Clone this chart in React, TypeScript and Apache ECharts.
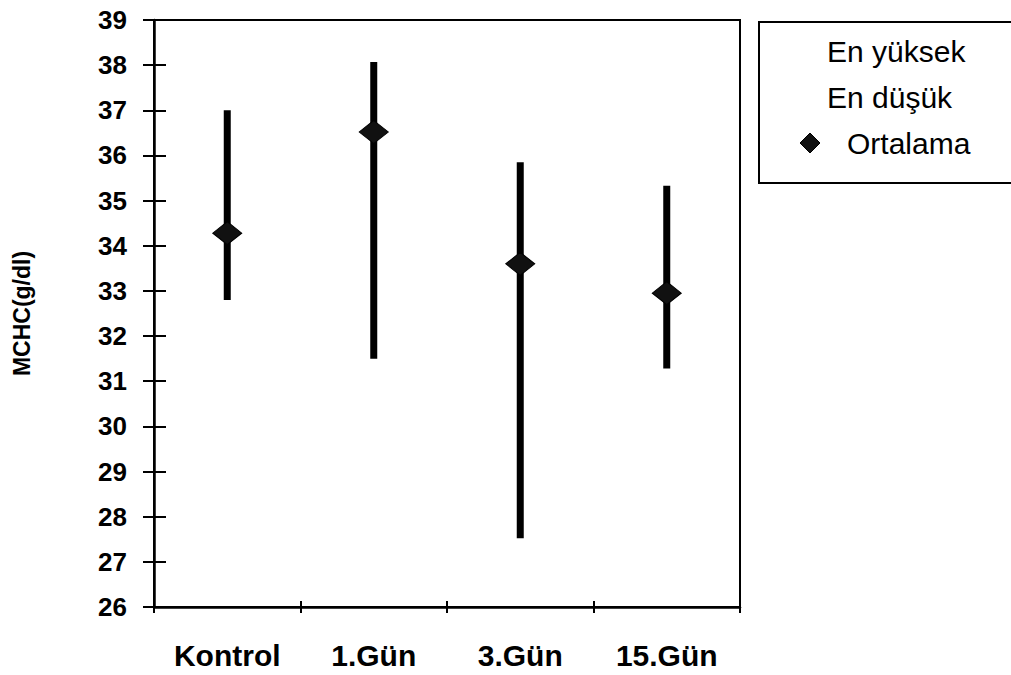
import React, { useEffect, useRef } from "react";
import * as echarts from "echarts";

const categories = ["Kontrol", "1.Gün", "3.Gün", "15.Gün"];
const highValues = [37.0, 38.07, 35.85, 35.33];
const lowValues = [32.8, 31.5, 27.52, 31.28];
const meanValues = [34.28, 36.52, 33.6, 32.95];
const legendLabels = ["En yüksek", "En düşük", "Ortalama"];
const yTitle = "MCHC(g/dl)";

const FONT = "'Liberation Sans', Arial, Helvetica, sans-serif";

export default function App() {
  const ref = useRef<HTMLDivElement>(null);

  useEffect(() => {
    if (!ref.current) return;
    const chart = echarts.init(ref.current, null, { renderer: "svg" });
    const rangeData = categories.map((c, i) => [i, highValues[i], lowValues[i]]);

    const option: any = {
      animation: false,
      backgroundColor: "#ffffff",
      grid: {
        left: 154,
        top: 20,
        right: 271,
        bottom: 68,
        containLabel: false,
        outerBoundsMode: "none",
        show: true,
        borderColor: "#000",
        borderWidth: 2,
        backgroundColor: "transparent",
      },
      xAxis: [
        {
          type: "category",
          data: categories,
          position: "bottom",
          boundaryGap: true,
          axisLine: { show: true, lineStyle: { color: "#000", width: 2.5 } },
          axisTick: { show: true, inside: false, length: 6, interval: 0, lineStyle: { color: "#000", width: 2 } },
          axisLabel: {
            margin: 33,
            color: "#000",
            fontSize: 30,
            fontWeight: "bold",
            fontFamily: FONT,
            interval: 0,
          },
          splitLine: { show: false },
        },
        {
          type: "category",
          data: categories,
          position: "bottom",
          boundaryGap: true,
          axisLine: { show: false },
          axisTick: { show: true, inside: true, length: 6, interval: 0, lineStyle: { color: "#000", width: 2 } },
          axisLabel: { show: false },
          splitLine: { show: false },
        },
      ],
      yAxis: [
        {
          type: "value",
          min: 26,
          max: 39,
          interval: 1,
          position: "left",
          name: yTitle,
          nameLocation: "middle",
          nameRotate: 90,
          nameGap: 121,
          nameTextStyle: { color: "#000", fontSize: 23, fontWeight: "bold", fontFamily: FONT },
          axisLine: { show: true, lineStyle: { color: "#000", width: 2.5 } },
          axisTick: { show: true, inside: false, length: 11, lineStyle: { color: "#000", width: 2 } },
          axisLabel: { margin: 27, color: "#000", fontSize: 26, fontWeight: "bold", fontFamily: FONT },
          splitLine: { show: false },
        },
        {
          type: "value",
          min: 26,
          max: 39,
          interval: 1,
          position: "left",
          axisLine: { show: false },
          axisTick: { show: true, inside: true, length: 12, lineStyle: { color: "#000", width: 2 } },
          axisLabel: { show: false },
          splitLine: { show: false },
        },
      ],
      series: [
        {
          type: "custom",
          name: "range",
          xAxisIndex: 0,
          yAxisIndex: 0,
          data: rangeData,
          encode: { x: 0, y: [1, 2] },
          renderItem: (params: any, api: any) => {
            const x = api.value(0);
            const top = api.coord([x, api.value(1)]);
            const bot = api.coord([x, api.value(2)]);
            const w = 7;
            return {
              type: "rect",
              shape: { x: top[0] - w / 2, y: top[1], width: w, height: bot[1] - top[1] },
              style: { fill: "#000" },
            };
          },
          z: 2,
        },
        {
          type: "scatter",
          name: "Ortalama",
          xAxisIndex: 0,
          yAxisIndex: 0,
          data: meanValues,
          symbol: "diamond",
          symbolSize: [29, 23],
          itemStyle: { color: "#111", borderColor: "#000", borderWidth: 1, opacity: 1 },
          z: 3,
        },
      ],
      graphic: [
        {
          type: "rect",
          shape: { x: 759, y: 22, width: 270, height: 161 },
          style: { fill: "#fff", stroke: "#000", lineWidth: 2 },
          z: 10,
        },
        {
          type: "text",
          x: 827,
          y: 51,
          style: { text: legendLabels[0], font: `30px ${FONT}`, fill: "#000", textVerticalAlign: "middle", verticalAlign: "middle" },
          z: 11,
        },
        {
          type: "text",
          x: 827,
          y: 97,
          style: { text: legendLabels[1], font: `30px ${FONT}`, fill: "#000", textVerticalAlign: "middle", verticalAlign: "middle" },
          z: 11,
        },
        {
          type: "polygon",
          shape: { points: [[810, 133], [820, 143], [810, 153], [800, 143]] },
          style: { fill: "#111", stroke: "#000", lineWidth: 1 },
          z: 11,
        },
        {
          type: "text",
          x: 847,
          y: 143,
          style: { text: legendLabels[2], font: `30px ${FONT}`, fill: "#000", textVerticalAlign: "middle", verticalAlign: "middle" },
          z: 11,
        },
      ],
    };
    chart.setOption(option);
    return () => chart.dispose();
  }, []);

  return (
    <div
      ref={ref}
      style={{ position: "fixed", left: 0, top: 0, width: 1011, height: 675, background: "#fff" }}
    />
  );
}
